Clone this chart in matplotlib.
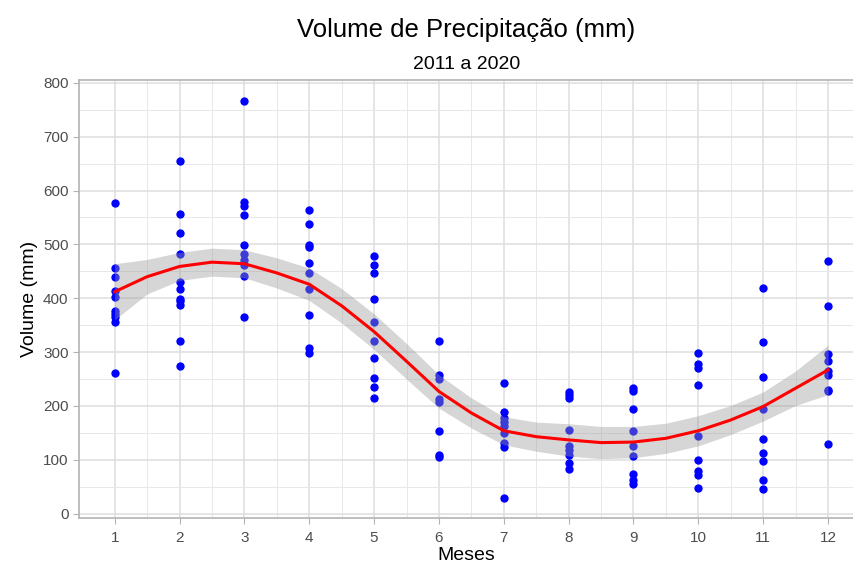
import numpy as np
import matplotlib
matplotlib.use('Agg')
from matplotlib import pyplot as plt

plt.rcParams['font.family'] = ['Liberation Sans', 'DejaVu Sans']

# precipitation per month (mm), one point per year
jan = [577, 457, 439, 414, 402, 377, 371, 365, 356, 262]
fev = [654, 557, 522, 483, 431, 418, 399, 394, 388, 321, 274]
mar = [767, 578, 572, 554, 498, 483, 471, 462, 442, 365]
abr = [563, 537, 498, 495, 466, 446, 418, 368, 307, 299]
mai = [478, 461, 446, 398, 356, 321, 289, 252, 236, 215]
jun = [321, 258, 250, 213, 208, 154, 109, 105]
jul = [242, 188, 177, 171, 163, 150, 131, 123, 30]
ago = [226, 221, 215, 156, 125, 118, 109, 95, 83]
set_ = [234, 228, 194, 154, 125, 108, 74, 62, 56]
out = [298, 278, 271, 239, 145, 100, 79, 72, 48]
nov = [419, 318, 254, 195, 139, 113, 98, 62, 45]
dez = [469, 386, 296, 283, 265, 258, 230, 227, 130]
months_data = [jan, fev, mar, abr, mai, jun, jul, ago, set_, out, nov, dez]

# smooth curve
smooth_x = [1, 1.5, 2, 2.5, 3, 3.5, 4, 4.5, 5, 5.5, 6, 6.5, 7, 7.5, 8, 8.5,
            9, 9.5, 10, 10.5, 11, 11.5, 12]
smooth_y = [412, 440, 459, 467, 464, 447, 426, 386, 338, 283, 227, 187, 154,
            143, 137, 132, 133, 140, 154, 174, 199, 233, 267]
smooth_se = [52, 32, 26, 26, 26, 28, 30, 32, 33, 33, 31, 28, 26, 27, 30, 30,
             29, 28, 28, 27, 27, 32, 46]

fig = plt.figure(figsize=(8.54, 5.68), dpi=100)
ax = fig.add_axes([0.0925, 0.088, 0.9075, 0.771])

for i, vals in enumerate(months_data):
    ax.scatter(np.full(len(vals), i + 1), vals, s=36, color='#0000ff',
               zorder=2, linewidths=0)

sx = np.array(smooth_x)
sy = np.array(smooth_y)
se = np.array(smooth_se)
ax.fill_between(sx, sy - se, sy + se, color='#999999', alpha=0.4,
                linewidth=0, zorder=3)
ax.plot(sx, sy, color='#ff0000', lw=2.2, zorder=4)

ax.set_xlim(0.45, 12.40)
ax.set_ylim(-8, 805)
ax.set_xticks(range(1, 13))
ax.set_xticks(np.arange(1.5, 12.5, 1), minor=True)
ax.set_yticks(range(0, 801, 100))
ax.set_yticks(range(50, 801, 100), minor=True)
ax.grid(which='major', color='#dedede', lw=1.1, zorder=0)
ax.grid(which='minor', color='#e8e8e8', lw=0.7, zorder=0)
ax.set_axisbelow(True)
for sp in ax.spines.values():
    sp.set_color('#b3b3b3')
    sp.set_linewidth(1.2)
ax.tick_params(which='major', length=4, color='#b3b3b3', labelsize=11,
               labelcolor='#4d4d4d')
ax.tick_params(axis='x', pad=5)
ax.tick_params(which='minor', length=0)

ax.set_xlabel('Meses', fontsize=14, labelpad=2)
ax.set_ylabel('Volume (mm)', fontsize=14, labelpad=4)
fig.text(0.546, 0.935, 'Volume de Precipitação (mm)', ha='center',
         va='baseline', fontsize=18.5)
fig.text(0.546, 0.879, '2011 a 2020', ha='center', va='baseline', fontsize=14)

fig.savefig('out.png', dpi=100)
